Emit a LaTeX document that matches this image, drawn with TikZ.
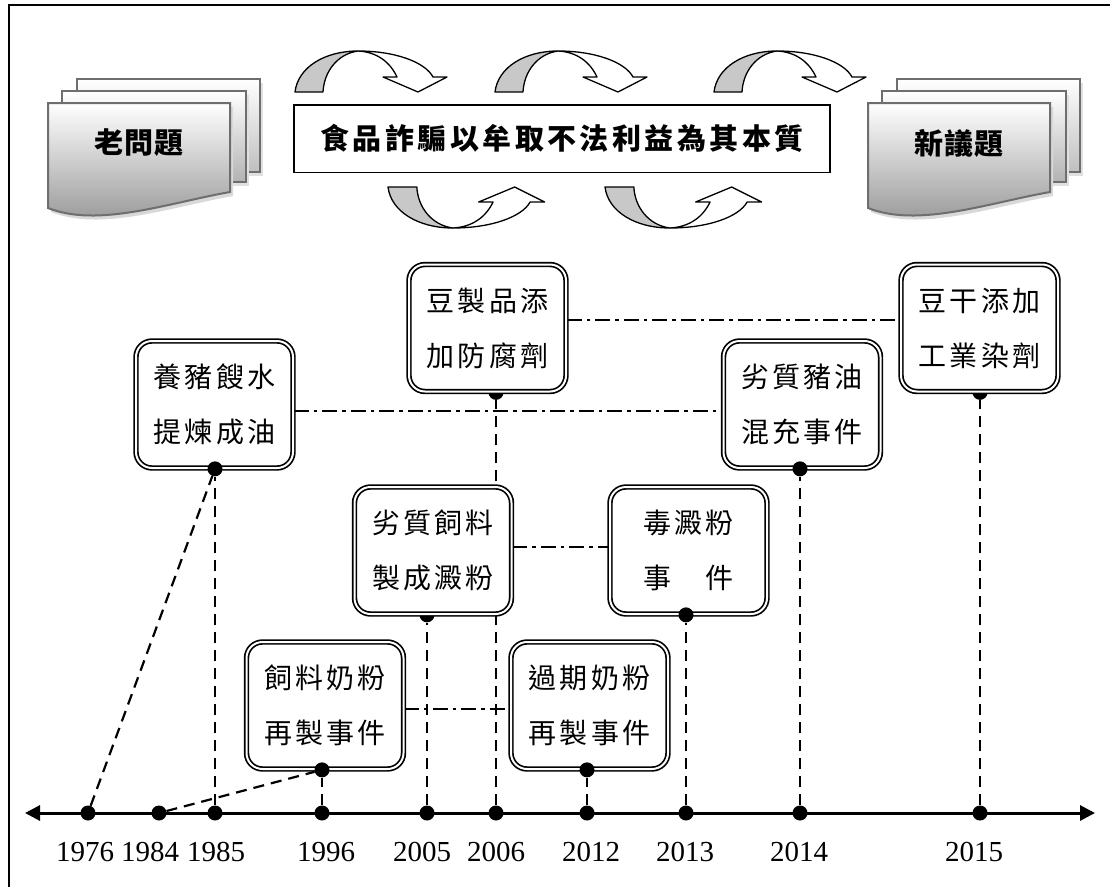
\documentclass[tikz,border=0pt]{standalone}
\usepackage{fontspec}
\usetikzlibrary{arrows.meta}
\newfontfamily\cjkbox[LetterSpace=11]{Noto Sans CJK TC}
\newfontfamily\cjktitle[LetterSpace=12]{Noto Sans CJK TC}
\newfontfamily\cjkdoc[LetterSpace=4]{Noto Sans CJK TC}
\newfontfamily\yearfont{Liberation Serif}
\definecolor{docline}{HTML}{6E6E6E}
\definecolor{arrgray}{HTML}{C8C8C8}
\pgfdeclarelayer{paper}
\pgfdeclarelayer{bg}
\pgfsetlayers{paper,bg,main}
\newcommand\curvedarrow[1]{%
 \begin{scope}[#1, line width=1.3pt, line join=round]
  \filldraw[fill=arrgray] (0,0) .. controls (3,-25) and (30,-41) .. (63,-41) .. controls (42,-38) and (29,-20) .. (28,0) -- cycle;
  \filldraw[fill=white] (63,-41) .. controls (100,-41) and (130,-30) .. (138,-15) -- (152,-15) -- (123,0) -- (88,-15) -- (102,-15) .. controls (95,-30) and (82,-40) .. (63,-41) -- cycle;
 \end{scope}}
\newcommand\docstack[1]{%
 \begin{scope}[shift={#1}]
  \fill[black!12] (32,-20) rectangle (215,73);
  \path[top color=white, bottom color=black!25, draw=docline, line width=2pt] (29,-24) rectangle (212,69);
  \fill[black!12] (17,-8) rectangle (201,83);
  \path[top color=white, bottom color=black!30, draw=docline, line width=2pt] (14,-12) rectangle (198,79);
  \fill[black!15] (3,4) -- (185,4) -- (185,93) .. controls (123,104) and (53,129) .. (3,109) -- cycle;
  \path[top color=white, bottom color=black!42, draw=docline, line width=2pt] (0,0) -- (182,0) -- (182,89) .. controls (120,100) and (50,125) .. (0,105) -- cycle;
 \end{scope}}
\begin{document}
\begin{tikzpicture}[x=1pt,y=-1pt,
  evbox/.style={draw=black, double=white, double distance=2pt, line width=1.7pt, fill=white,
    rounded corners=16pt, minimum width=157pt, minimum height=127pt, inner sep=0pt, align=center,
    font={\cjkbox\fontsize{28pt}{55pt}\selectfont}},
  dot/.style={circle, fill=black, inner sep=0pt, minimum size=15pt},
  dsh/.style={line width=2.2pt, dash pattern=on 11pt off 7pt},
  ddot/.style={line width=2.2pt, dash pattern=on 15pt off 5pt on 3.5pt off 5pt},
  yearlbl/.style={font={\yearfont\fontsize{29pt}{29pt}\selectfont}, anchor=base, inner sep=0pt},
  doclbl/.style={font={\cjkdoc\bfseries\fontsize{29pt}{29pt}\selectfont}, inner sep=0pt}]
\useasboundingbox (0,0) rectangle (1110,886);
\begin{pgfonlayer}{paper}
  \fill[white] (0,0) rectangle (1110,886);
\end{pgfonlayer}
% frame
\draw[line width=2.5pt] (9,890) -- (9,5) -- (1112,5);
% document stacks
\docstack{(48,103)}
\docstack{(868,103)}
\node[doclbl] (old) at (139,143) {老問題};
\node[doclbl] (new) at (959,143) {新議題};
% title box
\node[draw, line width=1.5pt, minimum width=536pt, minimum height=67.5pt, inner sep=0pt,
  font={\cjktitle\bfseries\fontsize{29pt}{29pt}\selectfont}] (title) at (562,138.5)
  {食品詐騙以牟取不法利益為其本質\hspace{17pt}};
% curved arrows
\curvedarrow{shift={(295,92)}}
\curvedarrow{shift={(495,92)}}
\curvedarrow{shift={(714,92)}}
\curvedarrow{shift={(388,187)}, yscale=-1, xscale=1.03}
\curvedarrow{shift={(605,187)}, yscale=-1, xscale=1.03}
% timeline
\coordinate (axL) at (25,813);
\coordinate (axR) at (1095,813);
\foreach \yr/\xx/\lx in {1976/88/85,1984/159/150,1985/215/216,1996/322/326,2005/427/422,2006/496/496,2012/587/591,2013/686/685,2014/800/799,2015/980/974}{
  \node[dot] (d\yr) at (\xx,813) {};
  \node[yearlbl] (l\yr) at (\lx,861) {\yr};
}
% event boxes
\node[evbox] (A) at (214.5,404.5) {養豬餿水\\提煉成油};
\node[evbox] (B) at (487.5,328) {豆製品添\\加防腐劑};
\node[evbox] (C) at (979.5,328) {豆干添加\\工業染劑};
\node[evbox] (D) at (802,404.5) {劣質豬油\\混充事件};
\node[evbox] (E) at (433,550.5) {劣質飼料\\製成澱粉};
\node[evbox] (F) at (688.5,550.5) {毒澱粉\\事　件};
\node[evbox] (G) at (325,705.5) {飼料奶粉\\再製事件};
\node[evbox] (H) at (589.5,705.5) {過期奶粉\\再製事件};
% dots on top of boxes
\node[dot] (pA) at (A.south -| d1985) {};
\node[dot] (pD) at (D.south -| d2014) {};
\node[dot] (pF) at (F.south -| d2013) {};
\node[dot] (pG) at (G.south -| d1996) {};
\node[dot] (pH) at (H.south -| d2012) {};
\begin{pgfonlayer}{bg}
  \node[dot] (pB) at (B.south -| d2006) {};
  \node[dot] (pC) at (C.south -| d2015) {};
  \node[dot] (pE) at (E.south -| d2005) {};
  \draw[line width=3pt, {Triangle[length=15pt,width=15pt]}-{Triangle[length=15pt,width=15pt]}] (axL) -- (axR);
  \draw[dsh] (d1976) -- (pA);
  \draw[dsh] (d1984) -- (pG);
  \draw[dsh] (d1985) -- (pA);
  \draw[dsh] (d1996) -- (pG);
  \draw[dsh] (d2005) -- (pE);
  \draw[dsh] (d2006) -- (pB);
  \draw[dsh] (d2012) -- (pH);
  \draw[dsh] (d2013) -- (pF);
  \draw[dsh] (d2014) -- (pD);
  \draw[dsh] (d2015) -- (pC);
  \draw[ddot] ([yshift=-6.5pt]A.east) -- ([yshift=-6.5pt]D.west);
  \draw[ddot] ([yshift=8pt]B.east) -- ([yshift=8pt]C.west);
  \draw[ddot] ([yshift=3.5pt]E.east) -- ([yshift=3.5pt]F.west);
  \draw[ddot] ([yshift=-3.5pt]G.east) -- ([yshift=-3.5pt]H.west);
\end{pgfonlayer}
\end{tikzpicture}
\end{document}
